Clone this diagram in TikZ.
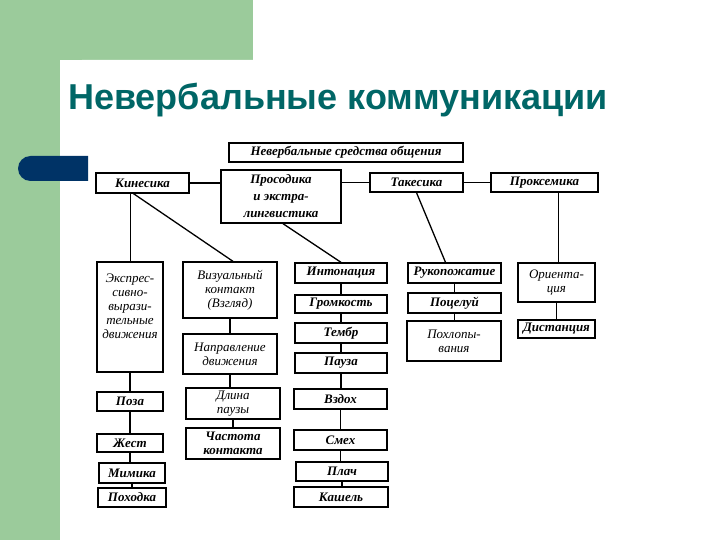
\documentclass[tikz,border=0pt]{standalone}
\usepackage{fontspec}
\setmainfont{Liberation Serif}
\newfontfamily\titlefont{Liberation Sans}
\definecolor{slidegreen}{HTML}{9BCB9B}
\definecolor{pillblue}{HTML}{003366}
\definecolor{titleteal}{HTML}{006666}
\begin{document}
\begin{tikzpicture}[x=1pt,y=-1pt,
  box/.style={draw, line width=1.3pt, inner sep=1pt, align=center,
    font=\fontsize{13}{14}\selectfont\bfseries\itshape},
  lbox/.style={box, font=\fontsize{13}{14}\selectfont\itshape},
  wh/.style 2 args={minimum width=#1pt, minimum height=#2pt},
  link/.style={line width=1.3pt}]
\useasboundingbox (0,0) rectangle (720,540);
\fill[slidegreen] (0,0) rectangle (253,60);
\fill[slidegreen] (0,0) rectangle (60,540);
\fill[white] (60,540) -- (60,82) arc[start angle=180, end angle=90, radius=22pt] -- (720,60) -- (720,540) -- cycle;
\fill[pillblue] (88,156) -- (30.5,156) arc[start angle=90, end angle=270, radius=12.5pt] -- (88,181) -- cycle;
\node[anchor=base west, text=titleteal, font=\titlefont\bfseries\fontsize{36}{40}\selectfont, inner sep=0pt] (title) at (68,110) {Невербальные коммуникации};

\node[box, wh={234}{19}] (top) at (346,152.5) {Невербальные средства общения};
\node[box, wh={93}{20}] (kin) at (142.5,183) {Кинесика};
\node[box, wh={120}{53}, font=\fontsize{13}{17}\selectfont\bfseries\itshape] (pros) at (281,196.5) {Просодика\\и экстра-\\лингвистика};
\node[box, wh={93}{19}] (tak) at (416.5,182.5) {Такесика};
\node[box, wh={107}{19}] (prox) at (544.5,182.5) {Проксемика};

\node[lbox, wh={66}{110}] (exp) at (130,317) {Экспрес-\\сивно-\\вырази-\\тельные\\движения\\[8pt]~};
\node[box, wh={66}{19}] (poza) at (130,401.5) {Поза};
\node[box, wh={66}{18}] (zhest) at (130,443) {Жест};
\node[box, wh={66}{20}] (mim) at (132,473) {Мимика};
\node[box, wh={68}{19}] (pohod) at (132,497.5) {Походка};

\node[lbox, wh={94}{56}] (viz) at (230,290) {Визуальный\\контакт\\(Взгляд)};
\node[lbox, wh={94}{40}] (napr) at (230,354) {Направление\\движения};
\node[lbox, wh={94}{31}] (dlina) at (233,403.5) {Длина\\паузы};
\node[box, wh={94}{31}] (chast) at (233,443.5) {Частота\\контакта};

\node[box, wh={92}{20}] (inton) at (341,273) {Интонация};
\node[box, wh={92}{18}] (grom) at (341,304) {Громкость};
\node[box, wh={92}{20}] (temb) at (341,333) {Тембр};
\node[box, wh={92}{20}] (pauza) at (341,363) {Пауза};
\node[box, wh={93}{20}] (vzdoh) at (340.5,399) {Вздох};
\node[box, wh={93}{20}] (smeh) at (340.5,440) {Смех};
\node[box, wh={92}{19}] (plach) at (342,471.5) {Плач};
\node[box, wh={94}{20}] (kash) at (341,497) {Кашель};

\node[box, wh={93}{20}] (ruk) at (454.5,273) {Рукопожатие};
\node[box, wh={93}{20}] (poc) at (454.5,303) {Поцелуй};
\node[lbox, wh={94}{40}] (pohl) at (454,341) {Похлопы-\\вания};

\node[lbox, wh={77}{39}] (orient) at (556.5,282.5) {Ориента-\\ция};
\node[box, wh={77}{18}] (dist) at (556.5,329) {Дистанция};

\draw[link] (kin.east) -- (kin.east -| pros.west);
\draw[link] (tak.west -| pros.east) -- (tak.west);
\draw[link] (tak.east) -- (prox.west);
\draw[link] ([xshift=-12pt]kin.south) -- ([xshift=-12pt]kin.south |- exp.north);
\draw[link] ([xshift=-9pt]kin.south) -- ([xshift=3pt]viz.north);
\draw[link] ([xshift=2pt]pros.south) -- (inton.north);
\draw[link] (tak.south) -- ([xshift=-9pt]ruk.north);
\draw[link] ([xshift=14pt]prox.south) -- ([xshift=14pt]prox.south |- orient.north);
\foreach \a/\b in {exp/poza, poza/zhest, zhest/mim, mim/pohod, viz/napr, napr/dlina, dlina/chast,
  inton/grom, grom/temb, temb/pauza, pauza/vzdoh, vzdoh/smeh, smeh/plach, plach/kash,
  ruk/poc, poc/pohl, orient/dist}
\draw[link] (\a.south) -- (\a.south |- \b.north);
\end{tikzpicture}
\end{document}
